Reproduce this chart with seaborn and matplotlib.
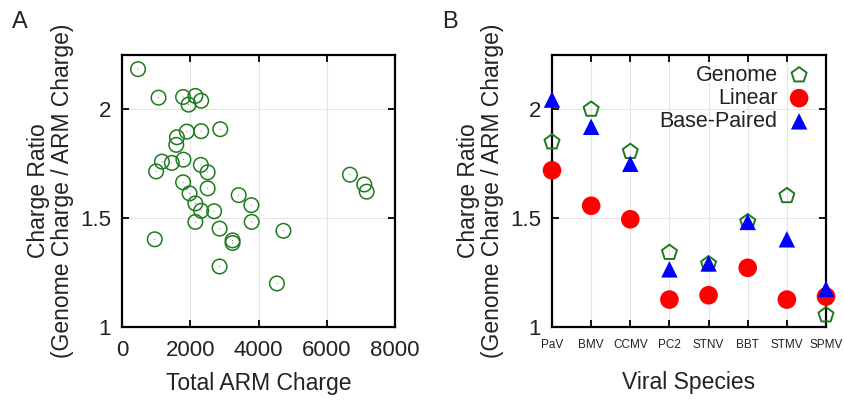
import numpy as np
import pandas as pd
import seaborn as sns
import matplotlib
matplotlib.use("Agg")
import matplotlib.pyplot as plt

# Panel A data: total ARM charge vs charge ratio
arm_charge = [470, 1070, 1790, 2150, 1950, 2320, 1610, 1590, 1900, 2320, 2880,
              1170, 1000, 1460, 1800, 2310, 2510, 1790, 2510, 1980, 2150, 2320,
              2700, 2150, 3420, 3790, 3800, 2860, 3240, 3240, 960, 4730, 2860,
              4540, 6680, 7100, 7170]
charge_ratio = [2.185, 2.054, 2.057, 2.062, 2.022, 2.04, 1.872, 1.837, 1.898, 1.90, 1.909,
                1.76, 1.715, 1.754, 1.769, 1.745, 1.711, 1.665, 1.637, 1.614, 1.568, 1.534,
                1.532, 1.483, 1.606, 1.56, 1.483, 1.452, 1.398, 1.386, 1.403, 1.442, 1.278,
                1.20, 1.70, 1.655, 1.622]

# Panel B data
species = ["PaV", "BMV", "CCMV", "PC2", "STNV", "BBT", "STMV", "SPMV"]
genome = [1.85, 2.00, 1.806, 1.342, 1.29, 1.483, 1.603, 1.055]
linear = [1.72, 1.557, 1.495, 1.126, 1.146, 1.272, 1.126, 1.14]
base_paired = [2.045, 1.92, 1.75, 1.265, 1.292, 1.483, 1.403, 1.175]

sns.set_style("ticks")
plt.rcParams['font.family'] = ['Liberation Sans', 'DejaVu Sans']

GREEN = "#1f7a1f"
TEXT = "#222222"
ylabel = "Charge Ratio\n(Genome Charge / ARM Charge)"

fig = plt.figure(figsize=(8.44, 4.03), dpi=100)
ax1 = fig.add_axes([122 / 844, 1 - 327 / 403, 273 / 844, 272 / 403])
ax2 = fig.add_axes([552 / 844, 1 - 327 / 403, 274 / 844, 272 / 403])


def style_axes(ax):
    ax.set_ylim(1, 2.25)
    ax.set_yticks([1, 1.5, 2])
    ax.set_yticklabels(["1", "1.5", "2"])
    ax.grid(True, color="#e4e4e4", linewidth=0.8)
    ax.set_axisbelow(True)
    for s in ax.spines.values():
        s.set_linewidth(1.6)
        s.set_color("black")
    ax.tick_params(direction="in", top=True, right=True, length=5, width=1.3,
                   labelsize=16, labelcolor=TEXT, color="black")
    ax.tick_params(axis="y", pad=8)
    ax.tick_params(axis="x", pad=9)
    ax.set_ylabel(ylabel, fontsize=16.5, linespacing=1.05, labelpad=4, color=TEXT)


# Panel A
dfa = pd.DataFrame({"charge": arm_charge, "ratio": charge_ratio})
sns.scatterplot(data=dfa, x="charge", y="ratio", ax=ax1, marker="o", s=110,
                facecolor="none", edgecolor=GREEN, linewidth=1.1, zorder=3)
sns.scatterplot(data=dfa, x="charge", y="ratio", ax=ax1, marker=".", s=2,
                color=GREEN, edgecolor="none", zorder=4)
ax1.set_xlim(0, 8000)
ax1.set_xticks([0, 2000, 4000, 6000, 8000])
style_axes(ax1)
ax1.set_xlabel("Total ARM Charge", fontsize=16.5, labelpad=8, color=TEXT)

# Panel B
pos = np.arange(len(species))
sns.scatterplot(x=pos, y=genome, ax=ax2, marker="p", s=130, facecolor="none",
                edgecolor=GREEN, linewidth=1.4, label="Genome", zorder=3, clip_on=False)
sns.scatterplot(x=pos, y=linear, ax=ax2, marker="o", s=180, color="#ff0000",
                edgecolor="none", label="Linear", zorder=4, clip_on=False)
sns.scatterplot(x=pos, y=base_paired, ax=ax2, marker="^", s=140, color="#0000ff",
                edgecolor="none", label="Base-Paired", zorder=5, clip_on=False)
ax2.set_xlim(0, len(species) - 1)
ax2.set_xticks(pos)
style_axes(ax2)
ax2.set_xticklabels(species, fontsize=8.5)
ax2.set_xlabel("Viral Species", fontsize=16.5, labelpad=14, color=TEXT)
leg = ax2.legend(loc="upper right", markerfirst=False, frameon=False, fontsize=15.5,
                 handletextpad=0.2, labelspacing=0.1, borderaxespad=0.05,
                 handlelength=1.6)
for t in leg.get_texts():
    t.set_color(TEXT)

fig.text(20 / 844, 1 - 22 / 403, "A", fontsize=17, ha="center", va="center", color=TEXT)
fig.text(450 / 844, 1 - 22 / 403, "B", fontsize=17, ha="center", va="center", color=TEXT)

fig.savefig("out.png", dpi=100)
